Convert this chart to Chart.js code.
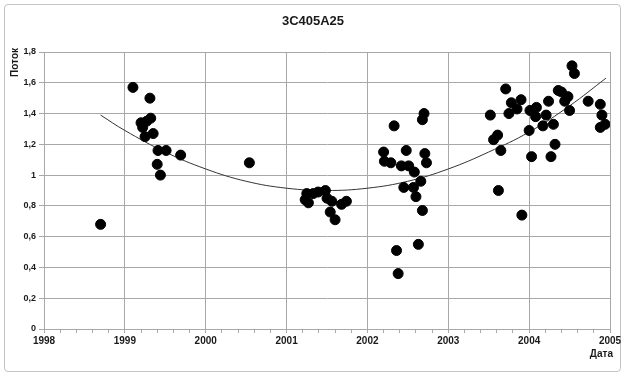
<!DOCTYPE html>
<html>
<head>
<meta charset="utf-8">
<script src="https://cdn.jsdelivr.net/npm/chart.js@4.4.0/dist/chart.umd.min.js"></script>
<style>
  html, body { margin: 0; padding: 0; background: #fff; }
  #wrap { position: relative; width: 625px; height: 378px; }
  #frame { position: absolute; left: 4px; top: 4px; width: 617px; height: 368px;
           border: 1px solid #c4c4c4; border-radius: 4px; box-sizing: border-box; }
  canvas { position: absolute; left: 0; top: 0; }
</style>
</head>
<body>
<div id="wrap">
  <div id="frame"></div>
  <canvas id="chart" width="625" height="378"></canvas>
</div>
<script>
// наблюдения: дата (год) и поток
const obsYears = [
  1998.70,
  1999.10, 1999.31, 1999.32, 1999.20, 1999.27, 1999.22, 1999.35, 1999.25, 1999.41, 1999.51, 1999.69, 1999.40, 1999.44,
  2000.54,
  2001.25, 2001.23, 2001.27, 2001.33, 2001.39, 2001.48, 2001.50, 2001.56, 2001.54, 2001.60, 2001.68, 2001.74,
  2002.70, 2002.68, 2002.33, 2002.20, 2002.48, 2002.71, 2002.21, 2002.29, 2002.42, 2002.51, 2002.73, 2002.58, 2002.66, 2002.45, 2002.57, 2002.60, 2002.68, 2002.63, 2002.36, 2002.38,
  2003.52, 2003.56, 2003.61, 2003.62, 2003.65, 2003.71, 2003.75, 2003.78, 2003.85, 2003.90, 2003.91,
  2004.00, 2004.01, 2004.03, 2004.08, 2004.09, 2004.17, 2004.21, 2004.24, 2004.27, 2004.30, 2004.32, 2004.36, 2004.40,
  2004.44, 2004.48, 2004.50, 2004.53, 2004.56, 2004.73, 2004.88, 2004.90, 2004.88, 2004.94
];
const obsFlux = [
  0.68,
  1.57, 1.50, 1.37, 1.34, 1.35, 1.31, 1.27, 1.25, 1.16, 1.16, 1.13, 1.07, 1.00,
  1.08,
  0.88, 0.84, 0.82, 0.88, 0.89, 0.90, 0.85, 0.83, 0.76, 0.71, 0.81, 0.83,
  1.40, 1.36, 1.32, 1.15, 1.16, 1.14, 1.09, 1.08, 1.06, 1.06, 1.08, 1.02, 0.96, 0.92, 0.92, 0.86, 0.77, 0.55, 0.51, 0.36,
  1.39, 1.23, 1.26, 0.90, 1.16, 1.56, 1.40, 1.47, 1.43, 1.49, 0.74,
  1.29, 1.42, 1.12, 1.38, 1.44, 1.32, 1.39, 1.48, 1.12, 1.33, 1.20, 1.55, 1.54,
  1.48, 1.51, 1.42, 1.71, 1.66, 1.48, 1.46, 1.39, 1.31, 1.33
];

// линия тренда
const trendYears = [1998.7, 1999, 1999.5, 2000, 2000.5, 2001, 2001.5, 2002, 2002.5, 2003, 2003.5, 2004, 2004.5, 2004.95];
const trendFlux = [1.39, 1.29, 1.15, 1.04, 0.96, 0.915, 0.90, 0.915, 0.96, 1.04, 1.15, 1.28, 1.45, 1.63];

const yearTicks = [1998, 1999, 2000, 2001, 2002, 2003, 2004, 2005];
const fluxTicks = [0, 0.2, 0.4, 0.6, 0.8, 1, 1.2, 1.4, 1.6, 1.8];

const chartTitle = "3C405A25";
const yTitle = "Поток";
const xTitle = "Дата";

const gridColor = "#a8a8a8";
const textColor = "#1a1a1a";
const fontFamily = "'Liberation Sans', Arial, sans-serif";

const isMajor = (v) => Math.abs(v - Math.round(v)) < 1e-6;

// подписи: заголовок и названия осей
const labelsPlugin = {
  id: "labels",
  afterDraw(chart) {
    const { ctx, chartArea } = chart;
    ctx.save();
    ctx.fillStyle = textColor;
    ctx.font = "bold 13px " + fontFamily;
    ctx.textAlign = "center";
    ctx.textBaseline = "middle";
    ctx.fillText(chartTitle, (chartArea.left + chartArea.right) / 2 - 14, 21);

    ctx.font = "bold 10px " + fontFamily;
    ctx.textAlign = "right";
    ctx.fillText(xTitle, chartArea.right + 3, 354);

    ctx.translate(15, chartArea.top - 4);
    ctx.rotate(-Math.PI / 2);
    ctx.textAlign = "right";
    ctx.fillText(yTitle, 0, 0);
    ctx.restore();
  }
};

new Chart(document.getElementById("chart"), {
  type: "scatter",
  data: {
    datasets: [
      {
        type: "scatter",
        label: "Поток",
        data: obsYears.map((x, i) => ({ x: x, y: obsFlux[i] })),
        backgroundColor: "#000",
        borderColor: "#000",
        pointRadius: 5,
        pointHoverRadius: 5,
        order: 1
      },
      {
        type: "line",
        label: "Тренд",
        data: trendYears.map((x, i) => ({ x: x, y: trendFlux[i] })),
        borderColor: "#333",
        borderWidth: 1,
        pointRadius: 0,
        tension: 0.4,
        fill: false,
        order: 2
      }
    ]
  },
  options: {
    responsive: false,
    animation: false,
    layout: { padding: { top: 52, right: 15, left: 0, bottom: 0 } },
    plugins: {
      legend: { display: false },
      title: { display: false },
      tooltip: { enabled: false }
    },
    scales: {
      x: {
        type: "linear",
        min: yearTicks[0],
        max: yearTicks[yearTicks.length - 1],
        afterFit: (scale) => { scale.height = 49; },
        border: { color: gridColor },
        grid: {
          color: (c) => (isMajor(c.tick.value) ? gridColor : "rgba(0,0,0,0)"),
          tickColor: gridColor,
          tickLength: 4
        },
        ticks: {
          stepSize: 0.2,
          autoSkip: false,
          maxRotation: 0,
          minRotation: 0,
          padding: 2,
          color: textColor,
          font: { family: fontFamily, size: 10, weight: "bold" },
          callback: (v) => (isMajor(v) && yearTicks.includes(Math.round(v)) ? String(Math.round(v)) : "")
        }
      },
      y: {
        min: fluxTicks[0],
        max: fluxTicks[fluxTicks.length - 1],
        afterFit: (scale) => { scale.width = 44; },
        border: { color: gridColor },
        grid: { color: gridColor, tickColor: gridColor, tickLength: 5 },
        ticks: {
          stepSize: 0.2,
          padding: 3,
          color: textColor,
          font: { family: fontFamily, size: 9, weight: "bold" },
          callback: (v) => {
            const r = Math.round(v * 10) / 10;
            return fluxTicks.includes(r) ? String(r).replace(".", ",") : "";
          }
        }
      }
    }
  },
  plugins: [labelsPlugin]
});
</script>
</body>
</html>
